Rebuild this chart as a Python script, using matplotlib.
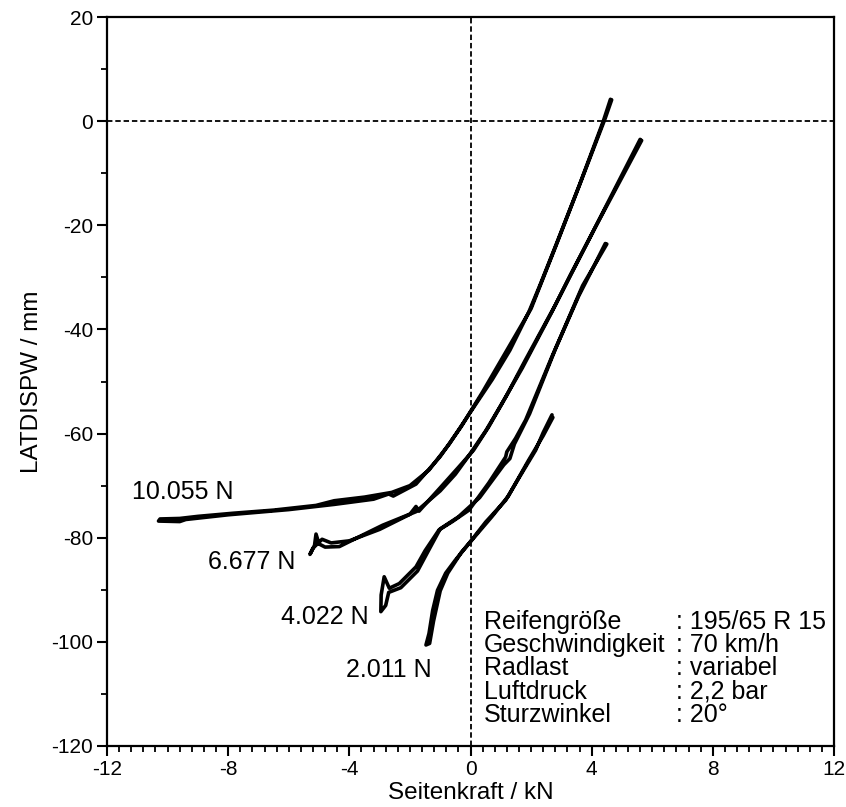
import matplotlib
matplotlib.use("Agg")
import matplotlib.pyplot as plt
from matplotlib.ticker import MultipleLocator

plt.rcParams['font.family'] = ['Liberation Sans', 'DejaVu Sans']
plt.rcParams['axes.unicode_minus'] = False

# ---- data (Seitenkraft kN, LATDISPW mm), loading branch then return branch ----
load_labels = ["10.055 N", "6.677 N", "4.022 N", "2.011 N"]

x_10055 = [4.62, 4.39, 3.6, 2.80, 2.3, 1.93, 1.3, 0.72, -0.05, -0.7, -1.37, -2.0, -2.6, -3.5, -4.5, -5.1, -6.5, -7.84, -9.0, -9.6, -10.25,
           -10.3, -9.6, -9.4, -8.0, -6.0, -4.5, -3.2, -2.7, -2.55, -1.8, -1.0, -0.3, 0.4, 1.0, 2.0, 2.85, 3.65, 4.45, 4.66]
y_10055 = [4.2, 0.1, -12.2, -24.1, -31.4, -36.6, -44.0, -49.6, -56.3, -62.0, -67.0, -70.0, -71.3, -72.2, -72.9, -73.8, -74.7, -75.3, -75.9, -76.3, -76.4,
           -76.8, -76.9, -76.5, -75.6, -74.6, -73.6, -72.6, -71.6, -72.0, -69.7, -64.4, -58.6, -52.0, -46.0, -36.0, -23.5, -11.5, 0.6, 4.1]

x_6677 = [5.60, 4.8, 4.01, 3.3, 2.69, 1.71, 1.0, 0.5, -0.05, -0.5, -1.0, -1.8, -2.9, -3.6, -4.33, -4.8, -5.0, -5.1, -5.15, -5.3,
          -5.2, -4.9, -4.6, -4.0, -3.0, -2.0, -1.8, -1.7, -1.0, -0.4, 0.1, 0.6, 1.2, 1.8, 2.8, 4.1, 5.0, 5.65]
y_6677 = [-3.5, -12.6, -21.6, -29.5, -36.6, -47.4, -54.6, -59.5, -64.2, -67.8, -71.0, -75.0, -77.6, -79.6, -81.7, -81.8, -81.2, -79.3, -81.5, -83.2,
          -82.0, -80.3, -81.0, -80.6, -78.4, -75.5, -74.0, -74.9, -70.4, -66.5, -63.2, -58.7, -52.6, -46.0, -35.3, -20.6, -10.8, -3.7]

x_4022 = [4.45, 4.0, 3.57, 2.69, 1.82, 1.49, 1.2, 1.16, 0.6, -0.05, -0.6, -1.04, -1.5, -1.8, -2.35, -2.68, -2.85, -2.95, -2.96,
          -2.8, -2.7, -2.3, -1.75, -1.4, -1.0, -0.4, 0.3, 1.1, 1.3, 1.45, 1.95, 2.8, 3.7, 4.5]
y_4022 = [-23.5, -28.7, -33.6, -45.2, -57.4, -60.9, -63.5, -64.5, -69.5, -74.7, -76.9, -78.5, -82.5, -85.6, -88.8, -89.7, -87.5, -91.0, -94.2,
          -93.0, -90.5, -89.6, -86.4, -82.6, -78.3, -76.0, -72.3, -66.0, -64.8, -62.0, -56.2, -43.8, -31.6, -23.6]

x_2011 = [2.69, 2.4, 2.15, 1.6, 1.16, 0.5, -0.05, -0.5, -0.82, -1.09, -1.25, -1.37, -1.47,
          -1.35, -1.22, -1.0, -0.75, -0.3, 0.2, 0.7, 1.25, 1.9, 2.4, 2.72]
y_2011 = [-56.4, -59.8, -63.2, -68.5, -72.8, -77.0, -81.1, -84.3, -86.8, -90.1, -94.0, -98.4, -100.6,
          -100.3, -96.0, -90.2, -86.8, -82.8, -79.4, -76.0, -72.0, -65.3, -60.4, -56.9]

series = [(x_10055, y_10055), (x_6677, y_6677), (x_4022, y_4022), (x_2011, y_2011)]
label_pos = [(-11.18, -71.2), (-8.67, -84.7), (-6.24, -95.2), (-4.10, -105.4)]

info_names = ["Reifengröße", "Geschwindigkeit", "Radlast", "Luftdruck", "Sturzwinkel"]
info_values = [": 195/65 R 15", ": 70 km/h", ": variabel", ": 2,2 bar", ": 20°"]
info_rows_y = [-96.2, -100.6, -105.0, -109.6, -114.1]

x_ticks = [-12, -8, -4, 0, 4, 8, 12]
y_ticks = [20, 0, -20, -40, -60, -80, -100, -120]

# ---- figure ----
fig = plt.figure(figsize=(8.46, 8.07), dpi=100)
ax = fig.add_axes([0.1265, 0.0756, 0.8593, 0.9033])

ax.axhline(0, color='black', lw=1.3, ls=(0, (3, 1.6)), zorder=1)
ax.axvline(0, color='black', lw=1.3, ls=(0, (3, 1.6)), zorder=1)

for xs, ys in series:
    ax.plot(xs, ys, color='black', lw=2.6, solid_joinstyle='round', solid_capstyle='round', zorder=3)

for (lx, ly), lab in zip(label_pos, load_labels):
    ax.text(lx, ly, lab, fontsize=18, ha='left', va='center')

for name, val, yy in zip(info_names, info_values, info_rows_y):
    ax.text(0.44, yy, name, fontsize=18, ha='left', va='center')
    ax.text(6.77, yy, val, fontsize=18, ha='left', va='center')

ax.set_xlim(-12, 12)
ax.set_ylim(-120, 20)
ax.set_xticks(x_ticks)
ax.set_yticks(y_ticks)
ax.set_xticklabels([str(v) for v in x_ticks])
ax.set_yticklabels([str(v) for v in y_ticks])
ax.xaxis.set_minor_locator(MultipleLocator(0.4))
ax.yaxis.set_minor_locator(MultipleLocator(10))
ax.tick_params(which='major', direction='out', length=7, width=1.5, labelsize=15, pad=3)
ax.tick_params(which='minor', direction='out', length=4, width=1.3)
ax.tick_params(top=False, right=False)
for s in ax.spines.values():
    s.set_linewidth(1.6)

ax.set_xlabel("Seitenkraft / kN", fontsize=17.5, labelpad=2)
ax.set_ylabel("LATDISPW / mm", fontsize=17.5, labelpad=6)

fig.savefig("out.png", dpi=100)
